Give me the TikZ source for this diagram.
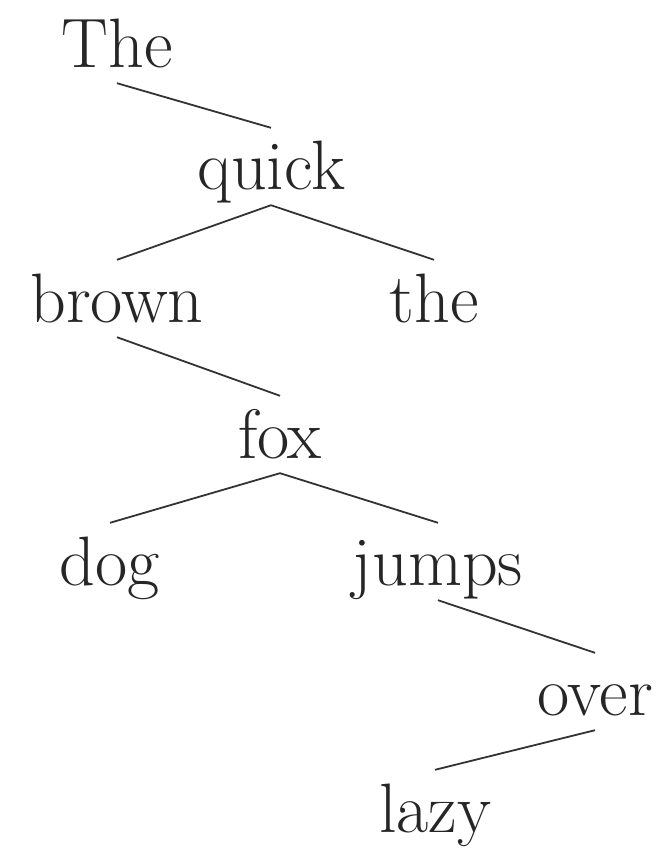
\documentclass[tikz,border=0pt]{standalone}
\usepackage{tikz}
\usetikzlibrary{positioning}

\begin{document}
\begin{tikzpicture}[
    x=1pt, y=-1pt,
    word/.style={inner sep=0pt, anchor=base, text height=62pt, text depth=15pt, font=\fontsize{70}{84}\selectfont, text=black!85},
    link/.style={line width=1.8pt, draw=black!80}
]
    \useasboundingbox (0,0) rectangle (665,850);

    % Words
    \node[word] (the1) at (117,68) {The};
    \node[word] (quick) at (271,190) {quick};
    \node[word] (brown) at (117,322) {brown};
    \node[word] (the2) at (434,322) {the};
    \node[word] (fox) at (280,458) {fox};
    \node[word] (dog) at (110,585) {dog};
    \node[word] (jumps) at (438,585) {jumps};
    \node[word] (over) at (595,715) {over};
    \node[word] (lazy) at (435,832) {lazy};

    % Links
    \draw[link] (the1.south) -- (quick.north);
    \draw[link] (quick.south) -- (brown.north);
    \draw[link] (quick.south) -- (the2.north);
    \draw[link] (brown.south) -- (fox.north);
    \draw[link] (fox.south) -- (dog.north);
    \draw[link] (fox.south) -- (jumps.north);
    \draw[link] (jumps.south) -- (over.north);
    \draw[link] (over.south) -- (lazy.north);

\end{tikzpicture}
\end{document}
